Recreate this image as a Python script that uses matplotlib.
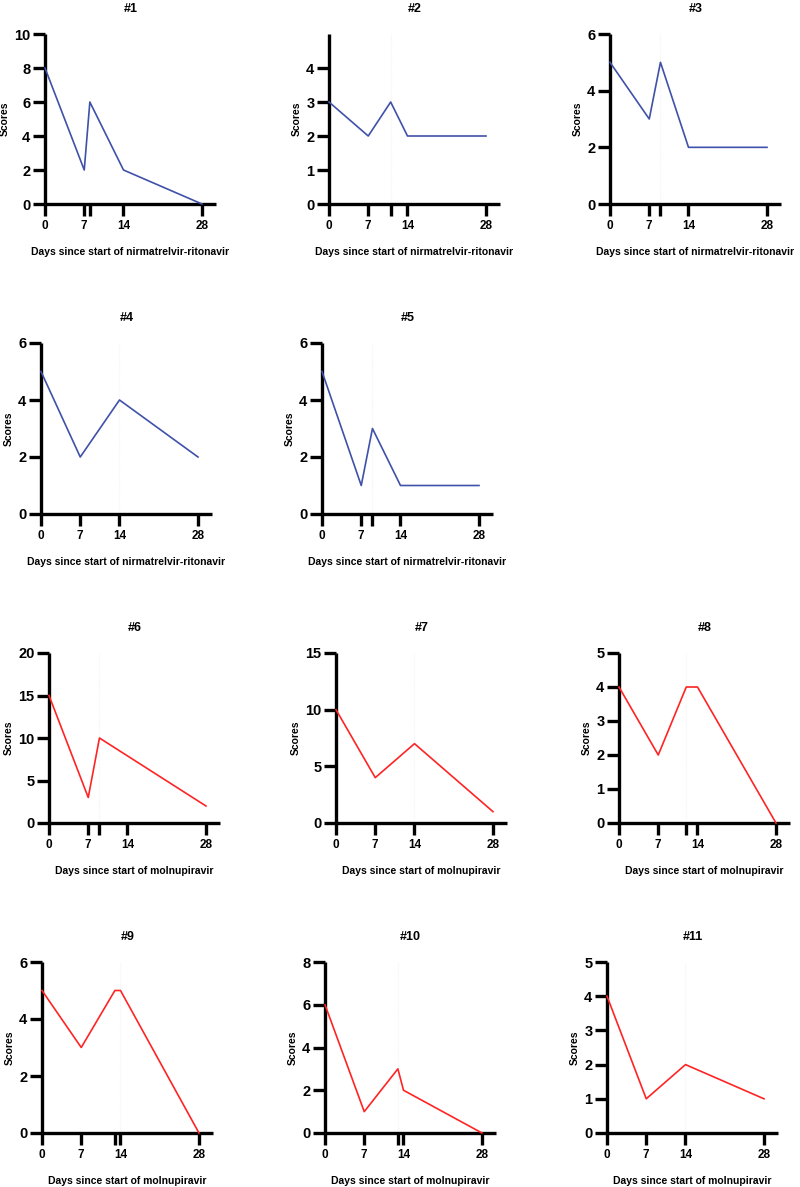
import matplotlib
matplotlib.use("Agg")
import matplotlib.pyplot as plt

plt.rcParams['font.family'] = ['Liberation Sans', 'DejaVu Sans']

titles = ["#1", "#2", "#3", "#4", "#5", "#6", "#7", "#8", "#9", "#10", "#11"]
days = [
    [0, 7, 8, 14, 28],
    [0, 7, 11, 14, 28],
    [0, 7, 9, 14, 28],
    [0, 7, 14, 28],
    [0, 7, 9, 14, 28],
    [0, 7, 9, 28],
    [0, 7, 14, 28],
    [0, 7, 12, 14, 28],
    [0, 7, 13, 14, 28],
    [0, 7, 13, 14, 28],
    [0, 7, 14, 28],
]
scores = [
    [8, 2, 6, 2, 0],
    [3, 2, 3, 2, 2],
    [5, 3, 5, 2, 2],
    [5, 2, 4, 2],
    [5, 1, 3, 1, 1],
    [15, 3, 10, 2],
    [10, 4, 7, 1],
    [4, 2, 4, 4, 0],
    [5, 3, 5, 5, 0],
    [6, 1, 3, 2, 0],
    [4, 1, 2, 1],
]
x_ticks = [
    [0, 7, 8, 14, 28],
    [0, 7, 11, 14, 28],
    [0, 7, 9, 14, 28],
    [0, 7, 14, 28],
    [0, 7, 9, 14, 28],
    [0, 7, 9, 14, 28],
    [0, 7, 14, 28],
    [0, 7, 12, 14, 28],
    [0, 7, 13, 14, 28],
    [0, 7, 13, 14, 28],
    [0, 7, 14, 28],
]
x_labeled = [0, 7, 14, 28]
y_ticks = [
    [0, 2, 4, 6, 8, 10],
    [0, 1, 2, 3, 4],
    [0, 2, 4, 6],
    [0, 2, 4, 6],
    [0, 2, 4, 6],
    [0, 5, 10, 15, 20],
    [0, 5, 10, 15],
    [0, 1, 2, 3, 4, 5],
    [0, 2, 4, 6],
    [0, 2, 4, 6, 8],
    [0, 1, 2, 3, 4, 5],
]
y_top = [10, 5, 6, 6, 6, 20, 15, 5, 6, 8, 5]
guide_x = [None, 11, 9, 14, 9, 9, 14, 12, 14, 13, 14]
drugs = ["nirmatrelvir-ritonavir"] * 5 + ["molnupiravir"] * 6
colors = ["#3F51A8"] * 5 + ["#FF2424"] * 6

# layout in pixels: (left spine x, top y, bottom y)
W, H = 800, 1187
lefts = [45, 329, 610, 41, 322, 49, 336, 619, 42, 325, 607]
tops = [34, 34, 34, 343, 343, 653, 653, 653, 962, 962, 962]
bottoms = [204, 204, 204, 514, 514, 823, 823, 823, 1133, 1133, 1133]
ax_w = 171
x_max = 30.5

fig = plt.figure(figsize=(W / 100, H / 100), dpi=100)

for i in range(11):
    l, t, b = lefts[i], tops[i], bottoms[i]
    ax = fig.add_axes([l / W, 1 - b / H, ax_w / W, (b - t) / H])
    if guide_x[i] is not None:
        ax.axvline(guide_x[i], color="#f4f4f4", lw=0.8, ls=(0, (1, 1)), zorder=0)
    ax.plot(days[i], scores[i], color=colors[i], lw=1.2, clip_on=False, zorder=3)
    ax.set_xlim(0, x_max)
    ax.set_ylim(0, y_top[i])
    for s in ["top", "right"]:
        ax.spines[s].set_visible(False)
    for s in ["left", "bottom"]:
        ax.spines[s].set_linewidth(2.4)
        ax.spines[s].set_capstyle("butt")
    ax.set_xticks(x_ticks[i])
    ax.set_xticklabels([str(v) if v in x_labeled else "" for v in x_ticks[i]],
                       fontsize=8.5, fontweight="bold")
    ax.set_yticks(y_ticks[i])
    ax.set_yticklabels([str(v) for v in y_ticks[i]], fontsize=10.5, fontweight="bold")
    ax.tick_params(axis="both", direction="out", length=8.5, width=2.4, color="black")
    ax.tick_params(axis="x", pad=3)
    ax.tick_params(axis="y", pad=2)
    ax.set_title(titles[i], fontsize=9, fontweight="bold", pad=16)
    ax.set_ylabel("Scores", fontsize=7.5, fontweight="bold", labelpad=3)
    ax.set_xlabel("Days since start of " + drugs[i], fontsize=7.5,
                  fontweight="bold", labelpad=11)

fig.savefig("out.png", dpi=100)
